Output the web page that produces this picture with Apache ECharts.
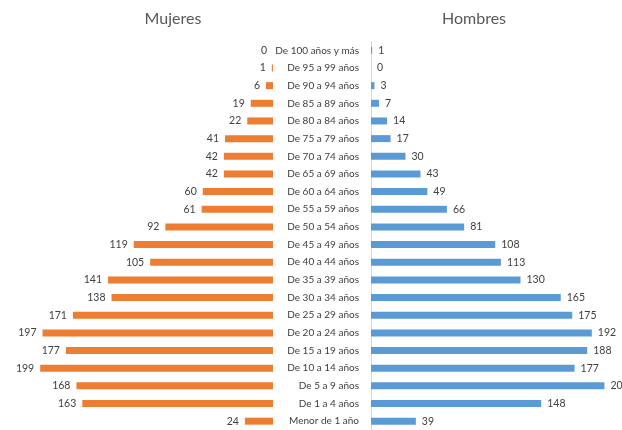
<!DOCTYPE html>
<html>
<head>
<meta charset="utf-8">
<script src="https://cdn.jsdelivr.net/npm/echarts@6/dist/echarts.min.js"></script>
<style>
  html, body { margin: 0; padding: 0; background: #fff; }
  #chart { width: 622px; height: 430px; }
</style>
</head>
<body>
<div id="chart"></div>
<script>
var grupos = ['De 100 años y más', 'De 95 a 99 años', 'De 90 a 94 años', 'De 85 a 89 años',
    'De 80 a 84 años', 'De 75 a 79 años', 'De 70 a 74 años', 'De 65 a 69 años',
    'De 60 a 64 años', 'De 55 a 59 años', 'De 50 a 54 años', 'De 45 a 49 años',
    'De 40 a 44 años', 'De 35 a 39 años', 'De 30 a 34 años', 'De 25 a 29 años',
    'De 20 a 24 años', 'De 15 a 19 años', 'De 10 a 14 años', 'De 5 a 9 años',
    'De 1 a 4 años', 'Menor de 1 año'];
var mujeres = [0, 1, 6, 19, 22, 41, 42, 42, 60, 61, 92, 119, 105, 141, 138, 171, 197, 177, 199, 168, 163, 24];
var hombres = [1, 0, 3, 7, 14, 17, 30, 43, 49, 66, 81, 108, 113, 130, 165, 175, 192, 188, 177, 203, 148, 39];

var fuente = 'Lato, "Open Sans", sans-serif';
var dom = document.getElementById('chart');
var myChart = echarts.init(dom, null, { renderer: 'canvas' });

var option = {
    animation: false,
    textStyle: { fontFamily: fuente },
    title: [
        { text: 'Mujeres', left: 168, top: 6, textAlign: 'center',
          textStyle: { fontFamily: fuente, fontSize: 16, fontWeight: 'normal', color: '#595959' } },
        { text: 'Hombres', left: 469, top: 6, textAlign: 'center',
          textStyle: { fontFamily: fuente, fontSize: 16, fontWeight: 'normal', color: '#595959' } }
    ],
    grid: [
        { left: 39, top: 41.5, width: 234, height: 391 },
        { left: 371, top: 41.5, width: 241.5, height: 391 }
    ],
    xAxis: [
        { gridIndex: 0, type: 'value', min: 0, max: 200, inverse: true, show: false },
        { gridIndex: 1, type: 'value', min: 0, max: 210, show: false }
    ],
    yAxis: [
        { gridIndex: 0, type: 'category', data: grupos, inverse: true, show: false },
        {
            gridIndex: 1, type: 'category', data: grupos, inverse: true,
            axisLine: { show: true, lineStyle: { color: '#d9d9d9' } },
            axisTick: { show: false },
            axisLabel: { margin: 12, fontSize: 10, color: '#404040', fontFamily: fuente }
        }
    ],
    series: [
        {
            name: 'Mujeres', type: 'bar', xAxisIndex: 0, yAxisIndex: 0,
            data: mujeres, barWidth: 7,
            itemStyle: { color: '#ED7D31' },
            label: { show: true, position: 'left', distance: 6, fontSize: 10.5, color: '#404040', fontFamily: fuente }
        },
        {
            name: 'Hombres', type: 'bar', xAxisIndex: 1, yAxisIndex: 1,
            data: hombres, barWidth: 7,
            itemStyle: { color: '#5B9BD5' },
            label: { show: true, position: 'right', distance: 6, fontSize: 10.5, color: '#404040', fontFamily: fuente }
        }
    ]
};

myChart.setOption(option);
window.addEventListener('resize', myChart.resize);
</script>
</body>
</html>
